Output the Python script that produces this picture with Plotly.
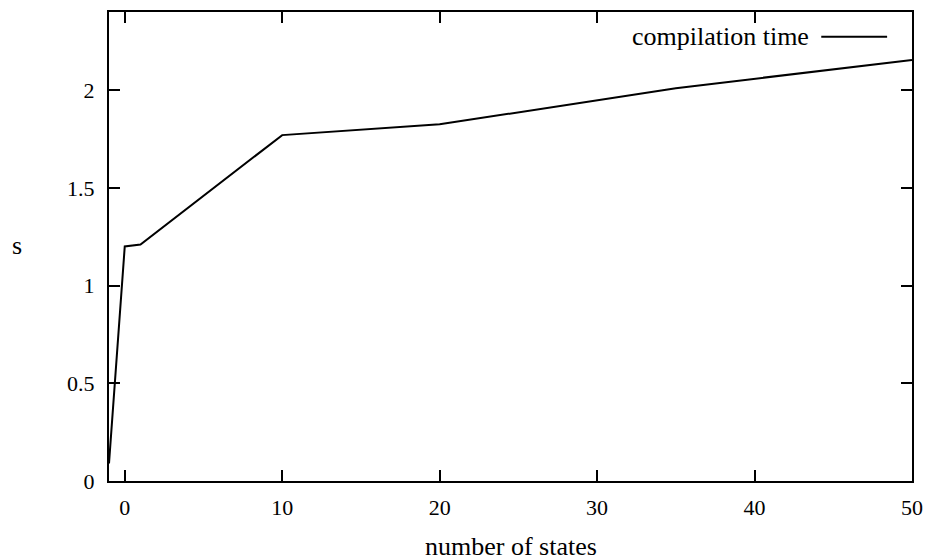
import plotly.graph_objects as go

states = [-1, 0, 1, 10, 20, 35, 50]
seconds = [0.09, 1.2, 1.21, 1.77, 1.825, 2.01, 2.155]
x_ticks = [0, 10, 20, 30, 40, 50]
y_ticks = [0, 0.5, 1, 1.5, 2]
y_tick_text = ["0", "0.5", "1", "1.5", "2"]
series_name = "compilation time"
x_title = "number of states"
y_title = "s"

FONT = "Liberation Serif, DejaVu Serif, serif"
TICK_SIZE = 22
TEXT_SIZE = 26

fig = go.Figure()
fig.add_trace(go.Scatter(x=states, y=seconds, mode="lines",
                         line=dict(color="black", width=2),
                         name=series_name, showlegend=False, hoverinfo="skip"))

axis_common = dict(showline=True, linecolor="black", linewidth=2, mirror="ticks",
                   ticks="inside", ticklen=11, tickwidth=2, tickcolor="black",
                   showgrid=False, zeroline=False,
                   tickfont=dict(family=FONT, size=TICK_SIZE, color="black"))

fig.update_xaxes(range=[-1, 50], tickvals=x_ticks, ticktext=[str(v) for v in x_ticks],
                 ticklabelstandoff=6, **axis_common)
fig.update_yaxes(range=[0, 2.4], tickvals=y_ticks, ticktext=y_tick_text,
                 ticklabelstandoff=8, **axis_common)

fig.add_annotation(text=x_title, xref="paper", yref="paper", x=0.5, y=-0.14,
                   showarrow=False, font=dict(family=FONT, size=TEXT_SIZE, color="black"),
                   xanchor="center", yanchor="middle")
fig.add_annotation(text=y_title, xref="paper", yref="paper", x=-0.1144, y=0.503,
                   showarrow=False, font=dict(family=FONT, size=TEXT_SIZE, color="black"),
                   xanchor="center", yanchor="middle")

# legend entry drawn at top right
fig.add_annotation(text=series_name, xref="paper", yref="paper", x=0.874, y=0.947,
                   showarrow=False, font=dict(family=FONT, size=TEXT_SIZE, color="black"),
                   xanchor="right", yanchor="middle")
fig.add_shape(type="line", xref="paper", yref="paper", x0=0.887, x1=0.969, y0=0.947, y1=0.947,
              line=dict(color="black", width=2))

fig.update_layout(width=933, height=560, plot_bgcolor="white", paper_bgcolor="white",
                  margin=dict(l=109, r=20, t=10, b=79),
                  font=dict(family=FONT, color="black"))

fig.write_html("out.html", config={"displayModeBar": False},
               post_script="document.body.style.margin='0px';")
